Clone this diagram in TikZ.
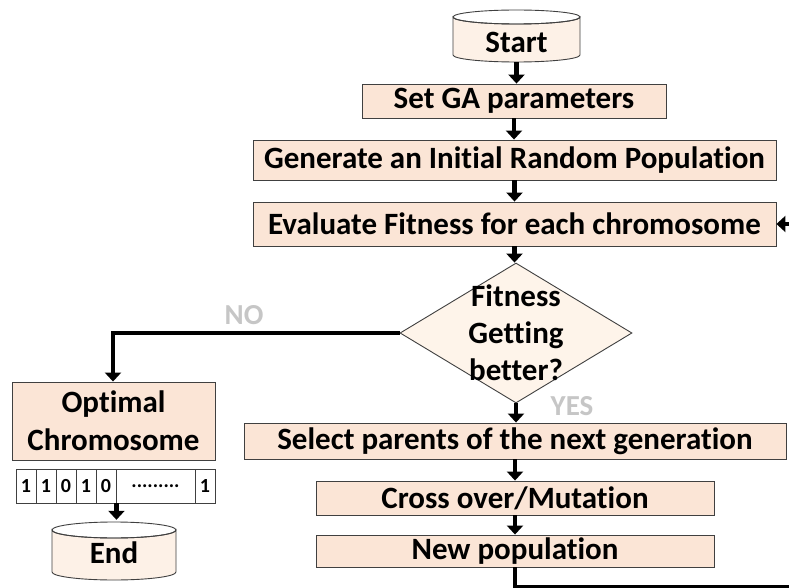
\documentclass[tikz,border=0pt]{standalone}
\usepackage{fontspec}
\setmainfont[Ligatures=NoCommon]{Carlito}
\usetikzlibrary{shapes.geometric,arrows.meta}
\definecolor{boxfill}{HTML}{FBE5D6}
\definecolor{cylfill}{HTML}{FDF1E7}
\definecolor{dfill}{HTML}{FEF4EA}
\definecolor{edge}{HTML}{404040}
\tikzset{
  procbox/.style={draw=edge, line width=0.9pt, fill=boxfill, inner sep=0pt, font=\fontsize{31}{37}\selectfont\bfseries},
  flow/.style={line width=4.8pt, -{Triangle[width=16pt,length=9pt]}},
  flowline/.style={line width=4.8pt},
  cell/.style={draw=edge, line width=0.9pt, fill=white, inner sep=0pt, minimum height=34pt, font=\fontsize{20}{22}\selectfont\bfseries},
  lbl/.style={font=\fontsize{29}{34}\selectfont\bfseries, text=gray!45, draw=none},
  plain/.style={inner sep=0pt}
}
\begin{document}
\begin{tikzpicture}[x=1pt,y=-1pt]
\clip (0,0) rectangle (789,588);
\fill[white] (0,0) rectangle (789,588);
% Start cylinder
\node[plain, minimum width=127pt, minimum height=52pt] (start) at (516.5,36) {};
\draw[draw=edge, line width=0.9pt, fill=cylfill] (453,17) -- (453,55) arc[start angle=180, end angle=360, x radius=63.5pt, y radius=7pt] -- (580,17) arc[start angle=0, end angle=-180, x radius=63.5pt, y radius=7pt] -- cycle;
\draw[draw=edge, line width=0.9pt] (453,17) arc[start angle=180, end angle=-180, x radius=63.5pt, y radius=7pt];
\node[font=\fontsize{31}{37}\selectfont\bfseries] (starttxt) at (516.5,42) {Start};
% boxes
\node[procbox, minimum width=304pt, minimum height=34pt] (setga) at (514,101) {Set GA parameters};
\node[procbox, minimum width=523pt, minimum height=40pt] (gen) at (514.5,160) {Generate an Initial Random Population};
\node[procbox, minimum width=523pt, minimum height=44pt] (eval) at (514.5,224) {Evaluate Fitness for each chromosome};
% diamond
\node[draw=edge, line width=0.9pt, fill=dfill, diamond, minimum width=232pt, minimum height=140pt, inner sep=0pt] (dec) at (516,333) {};
\node[align=center, font=\fontsize{31}{37}\selectfont\bfseries] (dectxt) at (516,333) {Fitness\\Getting\\better?};
\node[procbox, minimum width=542pt, minimum height=36pt] (sel) at (515,441) {Select parents of the next generation};
\node[procbox, minimum width=398pt, minimum height=34pt] (cross) at (515,498) {Cross over/Mutation};
\node[procbox, minimum width=398pt, minimum height=32pt] (newpop) at (515,551) {New population};
% left column
\node[procbox, minimum width=203pt, minimum height=78pt, align=center, font=\fontsize{31}{38}\selectfont\bfseries] (opt) at (113.5,421) {Optimal\\Chromosome};
\node[cell, minimum width=20pt] (c1) at (26,486) {1};
\node[cell, minimum width=20pt] (c2) at (46,486) {1};
\node[cell, minimum width=20pt] (c3) at (66,486) {0};
\node[cell, minimum width=20pt] (c4) at (86,486) {1};
\node[cell, minimum width=20pt] (c5) at (106,486) {0};
\node[cell, minimum width=79pt] (c6) at (155.5,486) {.........};
\node[cell, minimum width=20pt] (c7) at (205,486) {1};
% End cylinder
\node[plain, minimum width=124pt, minimum height=60pt] (endc) at (114,550) {};
\draw[draw=edge, line width=0.9pt, fill=cylfill] (52,530) -- (52,572) arc[start angle=180, end angle=360, x radius=62pt, y radius=8pt] -- (176,530) arc[start angle=0, end angle=-180, x radius=62pt, y radius=8pt] -- cycle;
\draw[draw=edge, line width=0.9pt] (52,530) arc[start angle=180, end angle=-180, x radius=62pt, y radius=8pt];
\node[font=\fontsize{31}{37}\selectfont\bfseries] (endtxt) at (114,553) {End};
% arrows
\draw[flow] (start.south) -- (start.south |- setga.north);
\draw[flow] (setga.south) -- (setga.south |- gen.north);
\draw[flow] (gen.south) -- (gen.south |- eval.north);
\draw[flow] (eval.south) -- (eval.south |- dec.north);
\draw[flow] (dec.south) -- (dec.south |- sel.north);
\draw[flow] (sel.south) -- (sel.south |- cross.north);
\draw[flow] (cross.south) -- (cross.south |- newpop.north);
\coordinate (nocorner) at (113,333);
\draw[flow] (dec.west) -- (nocorner) -- (nocorner |- opt.north);
\draw[flow] (c5.south east) -- (c5.south east |- endc.north);
% feedback loop
\coordinate (fb1) at (515,587);
\coordinate (fb2) at (800,587);
\coordinate (fb3) at (800,224);
\draw[flowline] (newpop.south -| fb1) -- (fb1) -- (fb2);
\draw[flow] (fb3) -- (eval.east);
% labels
\node[lbl] (no) at (244,315) {NO};
\node[lbl] (yes) at (572,406) {YES};
\end{tikzpicture}
\end{document}
